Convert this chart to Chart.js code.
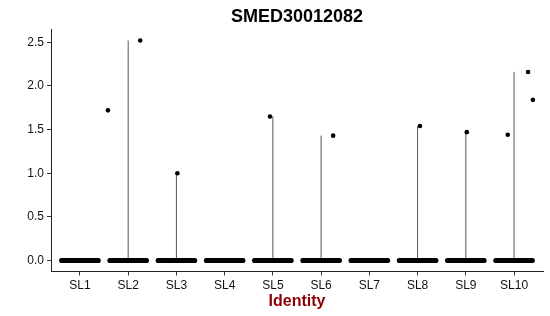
<!DOCTYPE html>
<html>
<head>
<meta charset="utf-8">
<script src="https://cdn.jsdelivr.net/npm/chart.js@4/dist/chart.umd.min.js"></script>
<style>
  html, body { margin: 0; padding: 0; background: #fff; }
  #wrap { width: 550px; height: 316px; }
</style>
</head>
<body>
<div id="wrap"><canvas id="myChart"></canvas></div>
<script>
// data
const groups = ['SL1', 'SL2', 'SL3', 'SL4', 'SL5', 'SL6', 'SL7', 'SL8', 'SL9', 'SL10'];
const zeroCounts = [60, 60, 60, 60, 60, 60, 60, 60, 60, 30];
const exprValues = [[], [1.72, 2.52], [1.0], [], [1.65], [1.43], [], [1.54], [1.47], [1.44, 2.16, 1.84]];
const yTicks = [0, 0.5, 1, 1.5, 2, 2.5];
const title = 'SMED30012082';
const xTitle = 'Identity';

// horizontal jitter of the expressed cells (positions only)
const exprJitter = [[], [-0.42, 0.25], [0.02], [], [-0.06], [0.25], [], [0.05], [0.02], [-0.13, 0.29, 0.39]];
const jitterWidth = 0.38;

const zeroPts = [];
const exprPts = [];
const violins = [];
groups.forEach((g, i) => {
    const c = i + 1;
    const n = zeroCounts[i];
    for (let k = 0; k < n; k++) {
        zeroPts.push({ x: c - jitterWidth + (2 * jitterWidth * k) / (n - 1), y: 0 });
    }
    exprValues[i].forEach((v, k) => exprPts.push({ x: c + exprJitter[i][k], y: v }));
    if (exprValues[i].length) {
        violins.push({
            type: 'scatter',
            data: [{ x: c, y: 0 }, { x: c, y: Math.max(...exprValues[i]) }],
            showLine: true,
            borderColor: '#555',
            borderWidth: 1,
            pointRadius: 0,
            order: 2
        });
    }
});

const yMax = 2.52;
const pad = yMax * 0.05;

const ctx = document.getElementById('myChart');
new Chart(ctx, {
    type: 'scatter',
    data: {
        datasets: [
            { data: zeroPts, pointRadius: 2.5, backgroundColor: '#000', borderWidth: 0, order: 0 },
            { data: exprPts, pointRadius: 2.3, backgroundColor: '#000', borderWidth: 0, order: 0 },
            ...violins
        ]
    },
    options: {
        responsive: true,
        maintainAspectRatio: false,
        animation: false,
        layout: { padding: { left: 0, right: 7, top: 0, bottom: 0 } },
        plugins: {
            legend: { display: false },
            tooltip: { enabled: false },
            title: {
                display: true,
                text: title,
                fullSize: false,
                color: '#000',
                font: { family: 'Liberation Sans', size: 18, weight: 'bold' },
                padding: { top: 6.5, bottom: 1.4 }
            }
        },
        scales: {
            x: {
                type: 'linear',
                min: 0.4,
                max: 10.6,
                afterBuildTicks: s => { s.ticks = groups.map((g, i) => ({ value: i + 1 })); },
                afterFit: s => { s.height = 44.5; },
                ticks: {
                    autoSkip: false,
                    maxRotation: 0,
                    padding: 3,
                    color: '#111',
                    font: { family: 'Liberation Sans', size: 12 },
                    callback: v => groups[Math.round(v) - 1]
                },
                grid: { drawOnChartArea: false, tickLength: 4, color: '#333' },
                border: { color: '#222', width: 1 },
                title: {
                    display: true,
                    text: xTitle,
                    color: '#8B0000',
                    font: { family: 'Liberation Sans', size: 16, weight: 'bold' },
                    padding: { top: 0, bottom: 5 }
                }
            },
            y: {
                min: -pad,
                max: yMax + pad,
                afterBuildTicks: s => { s.ticks = yTicks.map(v => ({ value: v })); },
                afterFit: s => { s.width = 51; },
                ticks: {
                    padding: 3,
                    color: '#111',
                    font: { family: 'Liberation Sans', size: 12 },
                    callback: v => v.toFixed(1)
                },
                grid: { drawOnChartArea: false, tickLength: 4, color: '#333' },
                border: { color: '#222', width: 1 }
            }
        }
    }
});
</script>
</body>
</html>
